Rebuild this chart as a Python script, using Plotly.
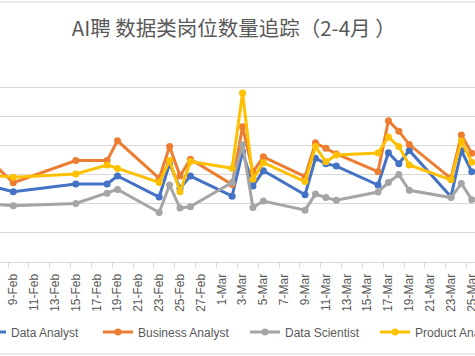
import pandas as pd
import plotly.graph_objects as go

dates = ["2021-02-07", "2021-02-09", "2021-02-15", "2021-02-18", "2021-02-19",
         "2021-02-23", "2021-02-24", "2021-02-25", "2021-02-26", "2021-03-02",
         "2021-03-03", "2021-03-04", "2021-03-05", "2021-03-09", "2021-03-10",
         "2021-03-11", "2021-03-12", "2021-03-16", "2021-03-17", "2021-03-18",
         "2021-03-19", "2021-03-23", "2021-03-24", "2021-03-25", "2021-03-26"]

data_analyst = [25.9, 24.1, 26.8, 26.8, 29.5, 22.3, 33.8, 25.3, 29.5, 22.6,
                37.9, 26.1, 31.3, 23.1, 35.6, 33.7, 32.9, 26.4, 37.5, 33.7,
                38.3, 22.4, 38.2, 31.0, 31.0]
business_analyst = [34.0, 27.2, 34.8, 34.8, 41.6, 28.7, 39.6, 29.5, 35.3, 26.6,
                    46.4, 30.9, 36.1, 29.3, 40.9, 39.0, 37.1, 31.0, 48.5, 44.9,
                    40.3, 28.7, 43.6, 37.3, 38.0]
data_scientist = [19.8, 19.3, 20.1, 23.6, 24.9, 17.0, 26.4, 18.5, 19.0, 27.3,
                  40.2, 18.7, 20.9, 17.8, 23.3, 22.1, 21.2, 24.0, 27.3, 30.0,
                  24.6, 22.1, 26.9, 21.4, 21.0]
product_analyst = [29.8, 29.1, 30.2, 33.3, 32.1, 27.3, 34.8, 24.1, 34.5, 32.2,
                   58.0, 28.4, 34.1, 27.6, 39.6, 34.4, 36.7, 37.4, 42.9, 39.6,
                   33.3, 28.2, 41.5, 34.2, 34.0]

series_names = ["Data Analyst", "Business Analyst", "Data Scientist", "Product Analyst"]
series_values = [data_analyst, business_analyst, data_scientist, product_analyst]
colors = ["#4472C4", "#ED7D31", "#A5A5A5", "#FFC000"]

title_text = "AI聘 数据类岗位数量追踪（2-4月 ）"

W, H = 475, 356
T, B = 58, 94
plot_h = H - T - B

base = pd.Timestamp("2021-02-09")
px_per_day = 10.42
x0_px = 13.3
range_start = base + pd.Timedelta(days=(0 - x0_px) / px_per_day)
range_end = base + pd.Timedelta(days=(W - x0_px) / px_per_day)

fig = go.Figure()
legend_names = ["legend", "legend2", "legend3", "legend4"]
for name, vals, col, lg in zip(series_names, series_values, colors, legend_names):
    fig.add_trace(go.Scatter(
        x=dates, y=vals, name=name, mode="lines+markers",
        line=dict(color=col, width=3),
        marker=dict(color=col, size=7),
        legend=lg,
    ))

gray_txt = "#595959"
grid = "#D9D9D9"

# legend positions (pixel of symbol start)
legend_px = [-29, 98, 245, 375]
leg_y = (T + plot_h - 332) / plot_h
layout_legends = {}
for lg, pxl in zip(legend_names, legend_px):
    layout_legends[lg] = dict(
        x=pxl / W, xanchor="left", y=leg_y, yanchor="middle",
        orientation="h", bgcolor="rgba(0,0,0,0)", borderwidth=0,
        font=dict(family="Liberation Sans, Arial", size=12, color=gray_txt),
    )

fig.update_layout(
    width=W, height=H,
    margin=dict(l=0, r=0, t=T, b=B, autoexpand=False),
    paper_bgcolor="white", plot_bgcolor="white",
    title=dict(text=title_text, x=0.492, xanchor="center", y=1 - 29 / H,
               yanchor="middle",
               font=dict(family="Noto Sans CJK SC", size=20.5, color=gray_txt)),
    showlegend=True,
    xaxis=dict(
        type="date", range=[range_start, range_end],
        tick0="2021-02-09", dtick=2 * 86400000, tickformat="%-d-%b",
        tickangle=-90, ticks="", ticklabelstandoff=6,
        ticklabeloverflow="allow",
        tickfont=dict(family="Liberation Sans, Arial", size=12, color=gray_txt),
        showgrid=False, showline=True, linecolor=grid, linewidth=1,
        minor=dict(ticks="outside", ticklen=5, tickcolor=grid, tickwidth=1,
                   tick0="2021-02-08 12:00", dtick=2 * 86400000, showgrid=False),
        zeroline=False,
    ),
    yaxis=dict(
        range=[0, 70], dtick=10, showticklabels=False, gridcolor=grid,
        gridwidth=1, zeroline=False, showline=False,
    ),
    shapes=[
        dict(type="rect", xref="paper", yref="paper", x0=-0.1, x1=1.1,
             y0=(T + plot_h - 354) / plot_h, y1=(T + plot_h - 2) / plot_h,
             line=dict(color=grid, width=1), fillcolor="rgba(0,0,0,0)",
             layer="below"),
    ],
    **layout_legends,
)

fig.write_html(
    "out.html",
    config={"displayModeBar": False},
    post_script="document.body.style.margin='0';document.body.style.padding='0';",
)
